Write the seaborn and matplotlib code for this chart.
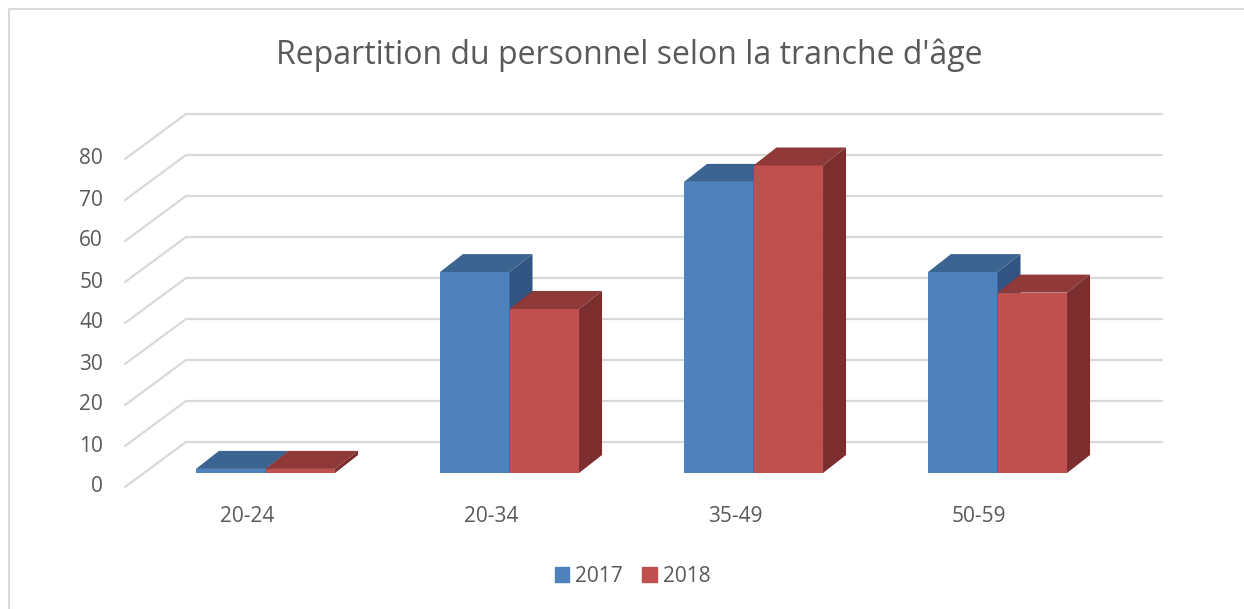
import numpy as np
import pandas as pd
import seaborn as sns
import matplotlib
matplotlib.use("Agg")
import matplotlib.pyplot as plt
from matplotlib.patches import Polygon
from matplotlib.lines import Line2D

# ---------------- data ----------------
categories = ["20-24", "20-34", "35-49", "50-59"]
years = ["2017", "2018"]
values_2017 = [1, 49, 71, 49]
values_2018 = [1, 40, 75, 44]
y_ticks = [0, 10, 20, 30, 40, 50, 60, 70, 80]
title = "Repartition du personnel selon la tranche d'âge"

front_colors = ["#4f81bd", "#c0504d"]
top_colors = ["#3c6491", "#8f3a38"]
side_colors = ["#325482", "#7b2e2d"]
text_color = "#595959"
grid_color = "#d9d9d9"

sns.set_theme(style="white")
plt.rcParams["font.family"] = ["Open Sans", "DejaVu Sans"]

W, H = 1244, 609
fig = plt.figure(figsize=(W / 100, H / 100), dpi=100)

# axes = front plane of the bars (pixel geometry)
px_left, px_right = 143.5, 1119.5
px_zero, px_per_unit = 473.0, 4.1
ymax = 80
ax = fig.add_axes([px_left / W, (H - px_zero) / H,
                   (px_right - px_left) / W, ymax * px_per_unit / H])

df = pd.DataFrame({
    "category": categories * 2,
    "year": [years[0]] * len(categories) + [years[1]] * len(categories),
    "value": values_2017 + values_2018,
})

sns.barplot(data=df, x="category", y="value", hue="year", order=categories,
            hue_order=years, palette=front_colors, saturation=1, width=0.57,
            ax=ax, zorder=3, linewidth=0, legend=False)

ax.set_xlim(-0.5, 3.5)
ax.set_ylim(0, ymax)

ux = (px_right - px_left) / 4.0      # pixels per category unit
uy = px_per_unit                      # pixels per value unit

# depth offsets (converted from pixels to data units)
bar_dx, bar_dy = 23 / ux, 18 / uy           # bar depth
back_dx, back_dy = 42.5 / ux, 31 / uy       # back wall
lab_dx, lab_dy = -18.5 / ux, -14 / uy       # label (front) plane

# gridlines: back wall + left wall diagonals
for v in y_ticks:
    ax.plot([-0.5 + back_dx, 3.5 + back_dx], [v + back_dy, v + back_dy],
            color=grid_color, lw=1.6, clip_on=False, zorder=0)
    ax.plot([-0.5 + lab_dx, -0.5 + back_dx], [v + lab_dy, v + back_dy],
            color=grid_color, lw=1.6, clip_on=False, zorder=0)
    ax.text(-0.5 + lab_dx - 22 / ux, v + lab_dy, str(v), ha="right",
            va="center", fontsize=15, color=text_color, clip_on=False)

for i, c in enumerate(categories):
    ax.text(i + lab_dx, lab_dy - 30 / uy, c, ha="center", va="center",
            fontsize=15, color=text_color, clip_on=False)

# 3D faces for each bar produced by seaborn
bars = [p for p in ax.patches if p.get_height() > 0 or p.get_width() > 0]
bars = sorted(bars, key=lambda p: p.get_x())
for p in bars:
    x0 = p.get_x()
    x1 = x0 + p.get_width()
    h = p.get_height()
    fc = matplotlib.colors.to_hex(p.get_facecolor())
    k = front_colors.index(fc) if fc in front_colors else 0
    z = 3 + 0.01 * x0
    p.set_zorder(z)
    top = Polygon([(x0, h), (x1, h), (x1 + bar_dx, h + bar_dy),
                   (x0 + bar_dx, h + bar_dy)], closed=True,
                  facecolor=top_colors[k], edgecolor="none", zorder=z,
                  clip_on=False)
    side = Polygon([(x1, 0), (x1 + bar_dx, bar_dy), (x1 + bar_dx, h + bar_dy),
                    (x1, h)], closed=True, facecolor=side_colors[k],
                   edgecolor="none", zorder=z, clip_on=False)
    ax.add_patch(top)
    ax.add_patch(side)
    p.set_clip_on(False)

ax.axis("off")

# legend
handles = [matplotlib.patches.Patch(color=front_colors[i], label=years[i])
           for i in range(2)]
fig.legend(handles=handles, loc="center", bbox_to_anchor=(632.5 / W, 1 - 576 / H),
           ncol=2, frameon=False, fontsize=15, labelcolor=text_color,
           handlelength=0.7, handleheight=0.7, handletextpad=0.3,
           columnspacing=0.9, borderpad=0)

# title
fig.text(629 / W, 1 - 64 / H, title, ha="center", va="baseline",
         fontsize=23, color=text_color)

# chart border (left and top visible)
fig.add_artist(Line2D([8.5 / W, 8.5 / W], [0, 1 - 8.5 / H],
                      transform=fig.transFigure, color=grid_color, lw=1.5))
fig.add_artist(Line2D([8.5 / W, 1], [1 - 8.5 / H, 1 - 8.5 / H],
                      transform=fig.transFigure, color=grid_color, lw=1.5))

fig.savefig("out.png", dpi=100, facecolor="white")
